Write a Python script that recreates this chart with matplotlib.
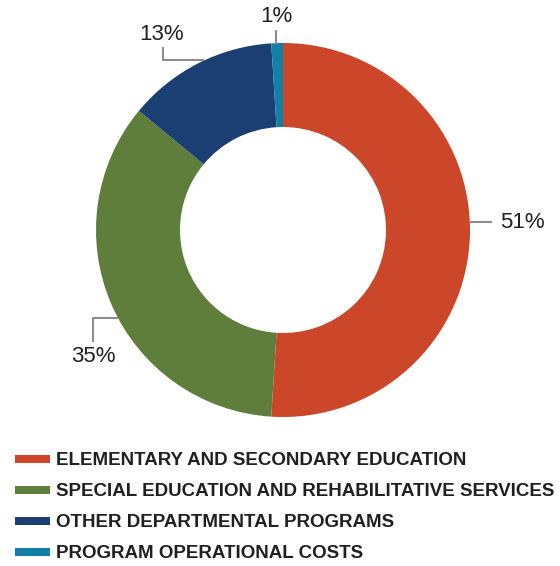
import matplotlib
matplotlib.use("Agg")
import matplotlib.pyplot as plt
from matplotlib.patches import Rectangle

categories = ["ELEMENTARY AND SECONDARY EDUCATION",
              "SPECIAL EDUCATION AND REHABILITATIVE SERVICES",
              "OTHER DEPARTMENTAL PROGRAMS",
              "PROGRAM OPERATIONAL COSTS"]
values = [51, 35, 13, 1]
labels = ["51%", "35%", "13%", "1%"]
colors = ["#CC4729", "#5F7D3B", "#1B3F73", "#1380A8"]

W, H = 560, 566
fig = plt.figure(figsize=(W / 100, H / 100), dpi=100)
ax = fig.add_axes([0, 0, 1, 1])

def P(x, y):
    return (x, H - y)

cx, cy = P(283, 230)
R = 187
ax.pie(values, colors=colors, startangle=90, counterclock=False,
       center=(cx, cy), radius=R,
       wedgeprops=dict(width=R - 103, linewidth=0),
       frame=True)
ax.set_xlim(0, W)
ax.set_ylim(0, H)
ax.set_aspect("equal")
ax.axis("off")

# leader lines (layout) : polyline points and text position
leader = [
    ([(470, 222), (492, 222)], (500, 223), "left", "center"),
    ([(118, 318), (93, 318), (93, 342)], (93, 357), "center", "center"),
    ([(204, 60), (163, 60), (163, 47)], (162, 34), "center", "center"),
    ([(276, 44), (276, 30)], (276, 16), "center", "center"),
]
lc = "#8C8C8C"
for (pts, tp, ha, va), lab in zip(leader, labels):
    xs = [P(*p)[0] for p in pts]
    ys = [P(*p)[1] for p in pts]
    ax.plot(xs, ys, color=lc, lw=1.5, solid_capstyle="butt")
    ax.text(*P(*tp), lab, ha=ha, va=va, fontsize=16,
            family="Liberation Sans", color="#231F20")

# legend
rows_y = [459, 490, 521, 552]
for cat, col, ry in zip(categories, colors, rows_y):
    x0, y0 = P(15, ry + 4)
    ax.add_patch(Rectangle((x0, y0), 35, 8, color=col, lw=0))
    ax.text(*P(56, ry + 1.5), cat, ha="left", va="center", fontsize=13.5,
            fontweight="bold", family="Liberation Sans", color="#231F20")

fig.savefig("out.png", dpi=100)
